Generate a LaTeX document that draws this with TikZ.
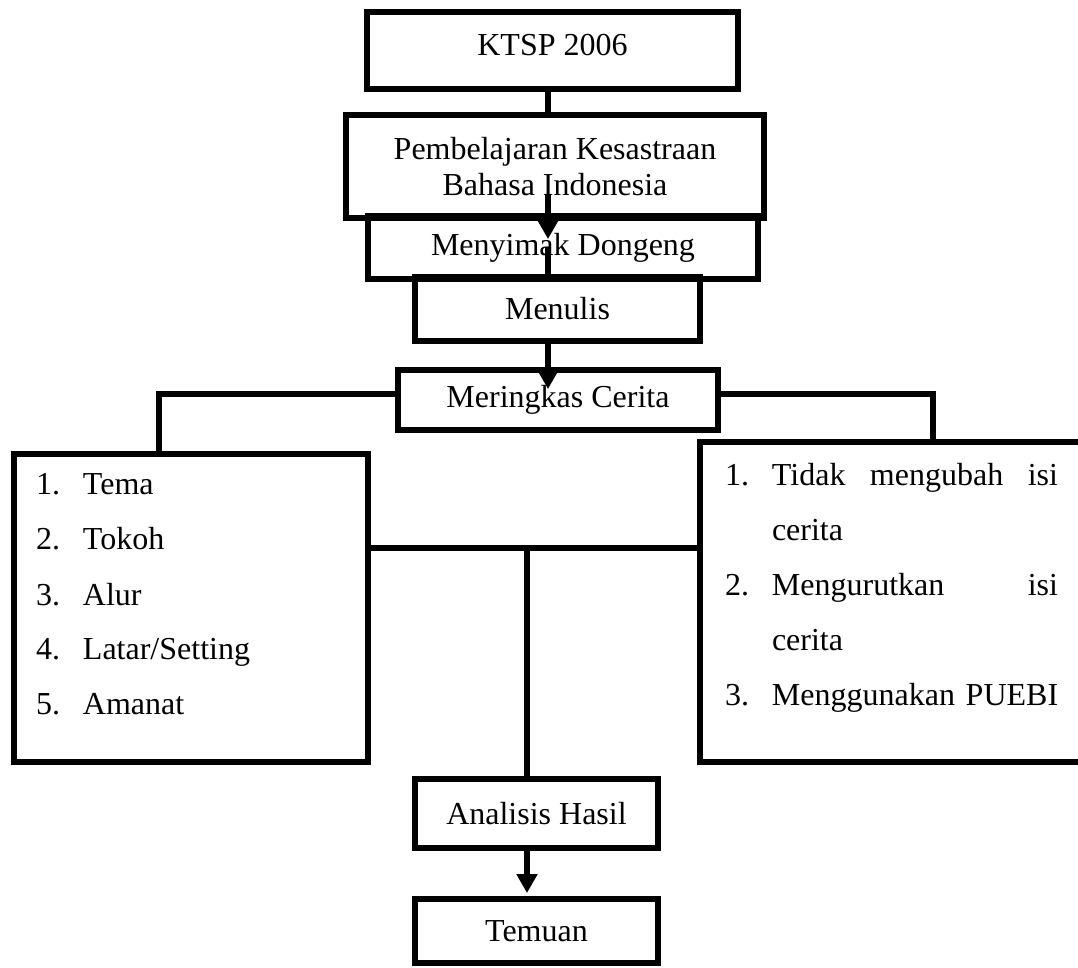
\documentclass[tikz,border=0pt]{standalone}
\usepackage{fontspec}
\setmainfont{Liberation Serif}
\usepackage{tikz}
\usetikzlibrary{arrows.meta,positioning}

\newcommand{\nomor}[1]{\makebox[23.5pt][l]{#1}}
\newcommand{\rata}[1]{\hbox to 143pt{#1}}

\begin{document}
\begin{tikzpicture}[x=0.5pt,y=-0.5pt]
\tikzset{kotak/.style =
{draw, line width=2.9pt, inner sep=0pt, align=center,
font=\fontsize{16pt}{18pt}\selectfont},
daftar/.style =
{draw, line width=2.9pt, inner sep=0pt, align=left,
text height=10.5pt, font=\fontsize{16pt}{27.5pt}\selectfont},
garis/.style = {line width=2.9pt},
panah/.style = {line width=2.9pt, -{Triangle[length=9.5pt,width=10pt]}}}
\useasboundingbox (0,0) rectangle (1078,968);
% kotak-kotak
\node[kotak, minimum width=185.5pt, minimum height=38.5pt, text depth=6pt] (ktsp) at (552.5,50.5) {KTSP 2006};
\node[kotak, minimum width=209pt, minimum height=51.5pt] (pemb) at (555,166.5) {Pembelajaran Kesastraan\\Bahasa Indonesia};
\node[kotak, minimum width=195pt, minimum height=31.5pt] (menyimak) at (563,247.5) {Menyimak Dongeng};
\node[kotak, minimum width=142.5pt, minimum height=32pt] (menulis) at (557.5,309) {Menulis};
\node[kotak, minimum width=160pt, minimum height=30pt] (meringkas) at (558,400) {Meringkas Cerita};
\node[daftar, minimum width=177pt, minimum height=154pt, text width=155pt, text depth=123.5pt] (unsur) at (191,608)
{\nomor{1.}Tema\\ \nomor{2.}Tokoh\\ \nomor{3.}Alur\\ \nomor{4.}Latar/Setting\\ \nomor{5.}Amanat};
\node[daftar, minimum width=191.5pt, minimum height=160pt, text width=166.5pt, text depth=126.5pt] (syarat) at (891.5,602)
{\nomor{1.}\rata{Tidak\hfill mengubah\hfill isi}\\ \nomor{}cerita\\ \nomor{2.}\rata{Mengurutkan\hfill isi}\\ \nomor{}cerita\\ \nomor{3.}\rata{Menggunakan PUEBI\hss}};
\node[kotak, minimum width=121.5pt, minimum height=34.5pt] (analisis) at (536.5,813.5) {Analisis Hasil};
\node[kotak, minimum width=121.5pt, minimum height=32pt] (temuan) at (536.5,931) {Temuan};
% penghubung
\coordinate (poros) at (548,0);
\coordinate (cabangkiri) at (159,394);
\coordinate (cabangkanan) at (933,394);
\coordinate (simpul) at (527,548);
\draw[garis] (poros |- ktsp.south) -- (poros |- pemb.north);
\draw[panah] ([yshift=13pt]poros |- pemb.south) -- ([yshift=-13pt]poros |- menyimak.north);
\draw[garis] ([yshift=-17pt]poros |- menyimak.north) -- (poros |- menulis.north);
\draw[panah] (poros |- menulis.south) -- ([yshift=-11pt]poros |- meringkas.north);
\draw[garis] (cabangkiri -| meringkas.west) -- (cabangkiri) -- (cabangkiri |- unsur.north);
\draw[garis] (cabangkanan -| meringkas.east) -- (cabangkanan) -- (cabangkanan |- syarat.north);
\draw[garis] (simpul -| unsur.east) -- (simpul -| syarat.west);
\draw[garis] (simpul) -- (simpul |- analisis.north);
\draw[panah] (simpul |- analisis.south) -- ([yshift=1.5pt]simpul |- temuan.north);
\end{tikzpicture}
\end{document}
